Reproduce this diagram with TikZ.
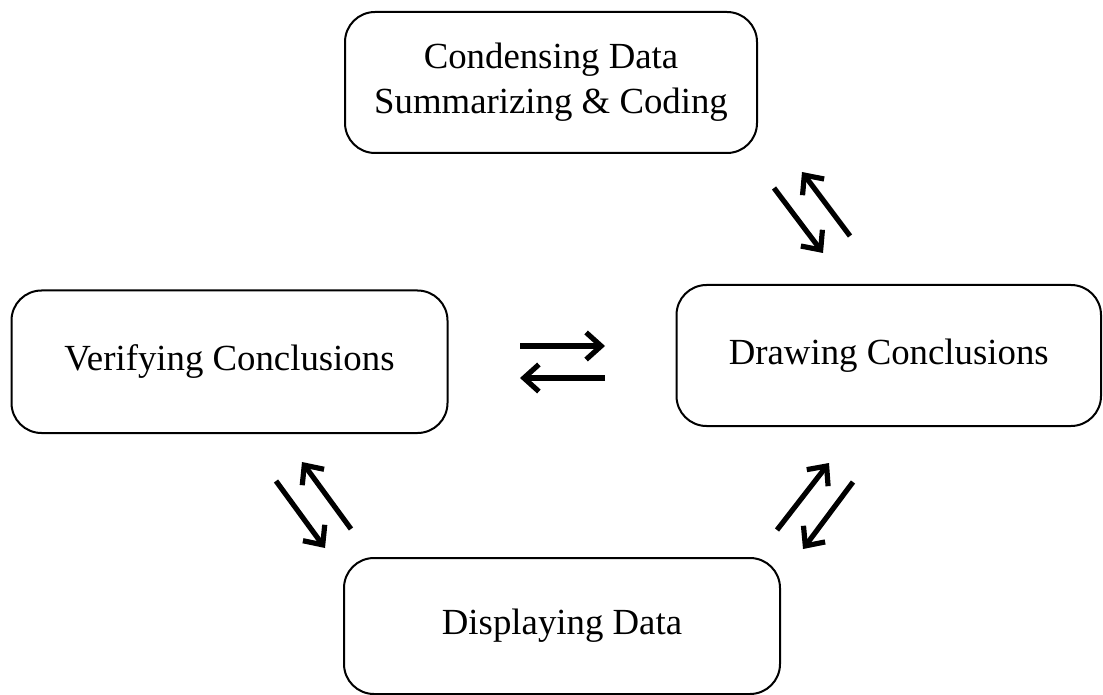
\documentclass[tikz,border=0pt]{standalone}
\usepackage{fontspec}
\setmainfont{Liberation Serif}
\usetikzlibrary{arrows.meta}
\begin{document}
\begin{tikzpicture}
	[x=0.5pt,y=-0.5pt,
	 box/.style={draw,line width=1pt,rounded corners=15pt,align=center,inner sep=0pt,font=\fontsize{18.4}{22.5}\selectfont},
	 flow/.style={line width=2.6pt,-{Straight Barb[length=7.5pt,width=13.5pt]}}]
	\useasboundingbox (0,0) rectangle (1103,695);
	\node[box,name=condense,minimum width=206pt,minimum height=70.5pt] at (551,82.5) {Condensing Data\\Summarizing \& Coding};
	\node[box,name=verify,minimum width=218pt,minimum height=71.25pt] at (229.5,361.75) {Verifying Conclusions};
	\node[box,name=draw,minimum width=212.25pt,minimum height=70.5pt] at (888.75,355.5) {Drawing Conclusions};
	\node[box,name=display,minimum width=218pt,minimum height=68pt] at (562,626) {Displaying Data};
	% arrow ends
	\coordinate (a1) at (774,188); \coordinate (a2) at (823,253);
	\coordinate (b1) at (850,236); \coordinate (b2) at (802,172);
	\coordinate (c1) at (520,346); \coordinate (c2) at (605,346);
	\coordinate (d1) at (605,378); \coordinate (d2) at (520,378);
	\coordinate (e1) at (276,481); \coordinate (e2) at (325,548);
	\coordinate (f1) at (351,529); \coordinate (f2) at (302,462);
	\coordinate (g1) at (777,530); \coordinate (g2) at (829,463);
	\coordinate (h1) at (853,482); \coordinate (h2) at (803,549);
	\draw[flow] (a1)--(a2);
	\draw[flow] (b1)--(b2);
	\draw[flow] (c1)--(c2);
	\draw[flow] (d1)--(d2);
	\draw[flow] (e1)--(e2);
	\draw[flow] (f1)--(f2);
	\draw[flow] (g1)--(g2);
	\draw[flow] (h1)--(h2);
\end{tikzpicture}
\end{document}
